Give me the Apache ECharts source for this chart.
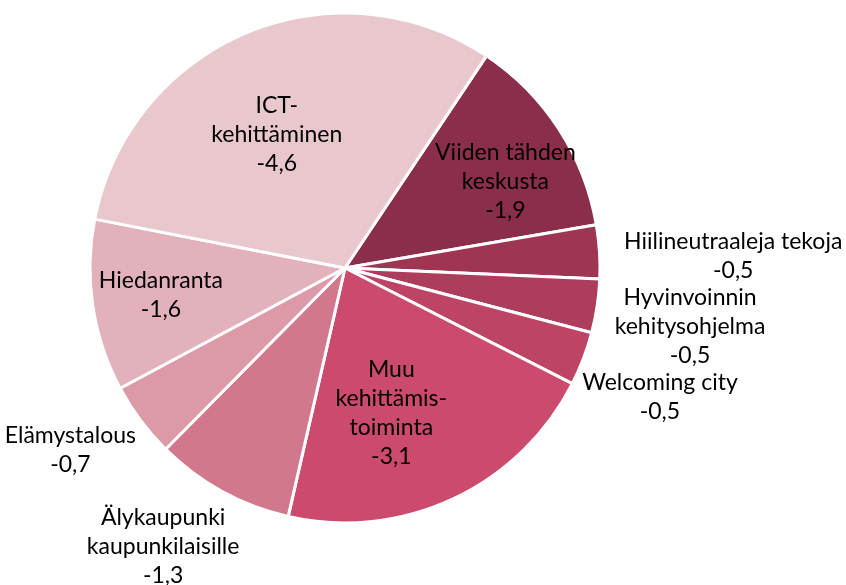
<!DOCTYPE html>
<html lang="fi">
<head>
    <meta charset="UTF-8">
    <title>Kehittämistoiminta</title>
    <script src="https://cdn.jsdelivr.net/npm/echarts@6.0.0/dist/echarts.min.js"></script>
    <style>
        * { margin: 0; padding: 0; }
        body { background: #fff; }
        #chart { width: 846px; height: 585px; }
    </style>
</head>
<body>
    <div id="chart"></div>
    <script>
        // data, clockwise from the Viiden tähden slice
        const categories = [
            'Viiden tähden\nkeskusta',
            'Hiilineutraaleja tekoja',
            'Hyvinvoinnin\nkehitysohjelma',
            'Welcoming city',
            'Muu\nkehittämis-\ntoiminta',
            'Älykaupunki\nkaupunkilaisille',
            'Elämystalous',
            'Hiedanranta',
            'ICT-\nkehittäminen'
        ];
        const values = [-1.9, -0.5, -0.5, -0.5, -3.1, -1.3, -0.7, -1.6, -4.6];
        const colors = ['#8b2e4a', '#9e3552', '#ad3d5c', '#bd4465', '#cb4a6e',
                        '#d2788d', '#dc9aa8', '#e2b1bb', '#e8c7cd'];

        // label nudges from the default inside position (px)
        const labelOffsets = [
            [51, -15], [258, -4], [216, 39], [193, 83], [-9, 27],
            [-119, 164], [-170, 104], [-55, 8], [-18, -13]
        ];

        const chart = echarts.init(document.getElementById('chart'));
        chart.setOption({
            animation: false,
            series: [{
                type: 'pie',
                center: [345, 268],
                radius: [0, 255],
                startAngle: 56.3,
                clockwise: true,
                itemStyle: { borderColor: '#fff', borderWidth: 3 },
                label: {
                    position: 'inside',
                    color: '#000',
                    fontFamily: 'Lato',
                    fontSize: 23,
                    lineHeight: 29,
                    align: 'center',
                    formatter: p => p.name + '\n' + values[p.dataIndex].toFixed(1).replace('.', ',')
                },
                labelLine: { show: false },
                labelLayout: p => ({ dx: labelOffsets[p.dataIndex][0], dy: labelOffsets[p.dataIndex][1] }),
                data: categories.map((c, i) => ({
                    name: c,
                    value: Math.abs(values[i]),
                    itemStyle: { color: colors[i] }
                }))
            }]
        });
    </script>
</body>
</html>
